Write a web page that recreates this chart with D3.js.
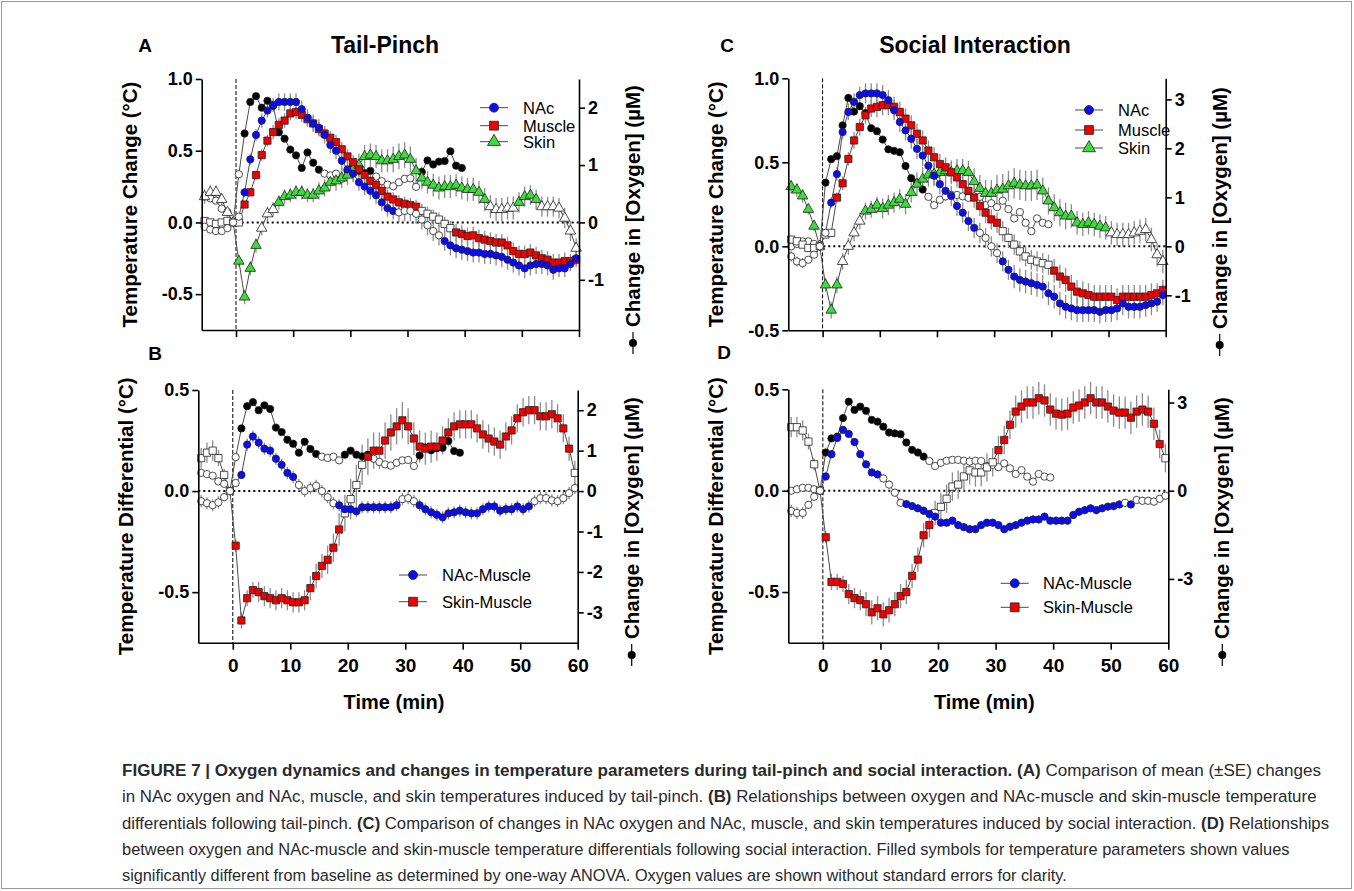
<!DOCTYPE html>
<html><head><meta charset="utf-8">
<script src="https://cdnjs.cloudflare.com/ajax/libs/d3/7.8.5/d3.min.js"></script>
<style>body{margin:0;background:#fff;} svg text{font-family:"Liberation Sans",Arial,Helvetica,sans-serif;}</style>
</head><body><svg id="c" width="1354" height="891"></svg>
<script>
// ---------------- DATA ----------------
const times = [-5.5,-4.5,-3.5,-2.5,-1.5,-0.5,0.5,1.5,2.5,3.5,4.5,5.5,6.5,7.5,8.5,9.5,10.5,11.5,12.5,13.5,14.5,15.5,16.5,17.5,18.5,19.5,20.5,21.5,22.5,23.5,24.5,25.5,26.5,27.5,28.5,29.5,30.5,31.5,32.5,33.5,34.5,35.5,36.5,37.5,38.5,39.5,40.5,41.5,42.5,43.5,44.5,45.5,46.5,47.5,48.5,49.5,50.5,51.5,52.5,53.5,54.5,55.5,56.5,57.5,58.5,59.5];
const xTicks = [0,10,20,30,40,50,60];

// Tail-pinch (A)
const tpNAc = [-0.03,-0.05,-0.06,-0.06,-0.04,0, 0.04,
  0.21,0.44,0.61,0.71,0.78,0.82,0.84,0.84,0.84,0.84,
  0.79,0.73,0.69,0.66,0.61,0.54,0.50,0.43,0.37,0.34,
  0.28,0.25,0.22,0.19,0.14,0.10,0.08,0.07,0.08,0.08,
  0.06,0.02,-0.02,-0.06,-0.09,-0.13,-0.16,-0.18,-0.19,-0.20,
  -0.21,-0.21,-0.22,-0.22,-0.23,-0.24,-0.26,-0.28,-0.30,-0.32,
  -0.30,-0.29,-0.29,-0.30,-0.33,-0.32,-0.32,-0.29,-0.25];
const tpNAcSE = [0.02,0.02,0.02,0.02,0.02,0,
  0.02,0.03,0.04,0.04,0.05,0.05,0.05,0.06,0.06,0.06,
  0.06,0.06,0.06,0.06,0.06,0.06,0.06,0.06,0.06,0.06,
  0.06,0.06,0.06,0.06,0.06,0.06,0.06,0.06,0.07,0.07,
  0.07,0.07,0.07,0.07,0.07,0.07,0.07,0.07,0.07,0.07,
  0.07,0.07,0.07,0.07,0.07,0.07,0.07,0.07,0.07,0.07,
  0.07,0.07,0.07,0.07,0.07,0.07,0.06,0.06,0.05,0.05];
const tpNAcFilled = [[7,33],[42,65]];

const tpMuscle = [0.01,0.0,-0.01,0.0,0.01,0, 0.0,
  0.125,0.21,0.33,0.47,0.57,0.63,0.68,0.71,0.76,0.77,
  0.75,0.72,0.69,0.65,0.62,0.59,0.56,0.51,0.46,0.42,
  0.37,0.33,0.29,0.26,0.22,0.18,0.16,0.14,0.13,0.12,
  0.11,0.08,0.06,0.04,0.02,-0.01,-0.04,-0.07,-0.08,-0.095,
  -0.09,-0.11,-0.12,-0.13,-0.14,-0.14,-0.16,-0.20,-0.22,-0.22,
  -0.21,-0.23,-0.25,-0.26,-0.28,-0.28,-0.27,-0.27,-0.26];
const tpMuscleSE = [0.02,0.02,0.02,0.02,0.02,0,
  0.02,0.02,0.03,0.03,0.04,0.04,0.05,0.05,0.05,0.05,
  0.05,0.05,0.05,0.05,0.05,0.05,0.05,0.05,0.05,0.05,
  0.05,0.05,0.05,0.05,0.05,0.05,0.05,0.05,0.05,0.05,
  0.05,0.05,0.05,0.05,0.05,0.05,0.05,0.05,0.06,0.06,
  0.06,0.06,0.06,0.06,0.06,0.06,0.06,0.06,0.06,0.06,
  0.06,0.06,0.06,0.06,0.06,0.06,0.06,0.06,0.05,0.05];
const tpMuscleFilled = [[7,37],[44,65]];

const tpSkin = [0.18,0.21,0.21,0.16,0.07,0, -0.27,
  -0.52,-0.32,-0.16,-0.04,0.06,0.09,0.14,0.18,0.19,0.21,
  0.21,0.19,0.19,0.22,0.24,0.28,0.29,0.31,0.33,0.37,
  0.40,0.46,0.47,0.46,0.43,0.43,0.44,0.46,0.47,0.44,
  0.36,0.31,0.28,0.26,0.24,0.25,0.25,0.26,0.24,0.23,
  0.23,0.21,0.16,0.11,0.09,0.09,0.10,0.10,0.14,0.18,
  0.19,0.16,0.11,0.11,0.11,0.10,0.03,-0.06,-0.18];
const tpSkinSE = [0.05,0.05,0.05,0.04,0.03,0,
  0.04,0.05,0.05,0.05,0.05,0.05,0.05,0.05,0.05,0.05,
  0.05,0.05,0.05,0.05,0.06,0.06,0.06,0.07,0.07,0.07,
  0.08,0.08,0.08,0.08,0.08,0.08,0.08,0.09,0.09,0.09,
  0.09,0.09,0.08,0.08,0.08,0.08,0.08,0.08,0.08,0.08,
  0.08,0.08,0.08,0.08,0.08,0.08,0.08,0.08,0.08,0.07,
  0.07,0.07,0.07,0.07,0.07,0.07,0.07,0.07,0.07,0.07];
const tpSkinFilled = [[6,9],[13,49],[55,58]];

// Tail-pinch oxygen (µM), shared by A and B
const tpOxygen = [0.45,0.42,0.38,0.24,0.18,0, 0.84,
  1.55,2.10,2.20,2.00,2.12,2.03,1.57,1.46,1.27,1.17,
  0.95,1.22,1.04,0.92,0.85,0.82,0.85,0.76,0.90,1.00,
  0.90,0.86,0.90,0.80,0.72,0.66,0.63,0.70,0.76,0.77,
  0.62,0.88,1.08,1.01,1.06,1.07,1.24,0.99,0.95];
const tpOxygenFilled = [[7,20],[25,29],[38,45]];

// Tail-pinch differentials (B)
const tpNAcMuscle = [-0.05,-0.06,-0.07,-0.056,-0.03,0, 0.04,
  0.08,0.23,0.27,0.24,0.21,0.20,0.16,0.13,0.09,0.07,
  0.03,0.0,0.015,0.026,0.0,-0.03,-0.06,-0.07,-0.09,-0.09,
  -0.10,-0.08,-0.08,-0.08,-0.08,-0.08,-0.08,-0.07,-0.04,-0.035,
  -0.05,-0.07,-0.09,-0.105,-0.117,-0.13,-0.11,-0.105,-0.097,-0.105,
  -0.11,-0.11,-0.09,-0.076,-0.076,-0.097,-0.09,-0.09,-0.076,-0.09,
  -0.076,-0.05,-0.035,-0.035,-0.046,-0.05,-0.035,-0.01,0.015];
const tpNAcMuscleSE = [0.03,0.03,0.03,0.03,0.02,0,
  0.02,0.02,0.03,0.03,0.03,0.03,0.03,0.03,0.03,0.03,
  0.03,0.03,0.03,0.03,0.03,0.03,0.03,0.03,0.03,0.03,
  0.03,0.03,0.03,0.03,0.03,0.03,0.03,0.03,0.03,0.03,
  0.03,0.03,0.03,0.03,0.03,0.03,0.03,0.03,0.03,0.03,
  0.03,0.03,0.03,0.03,0.03,0.03,0.03,0.03,0.03,0.03,
  0.03,0.03,0.03,0.03,0.03,0.03,0.03,0.03,0.03,0.03];
const tpNAcMuscleFilled = [[7,16],[24,34],[38,57]];

const tpSkinMuscle = [0.163,0.19,0.20,0.163,0.08,0, -0.27,
  -0.64,-0.53,-0.49,-0.50,-0.52,-0.53,-0.54,-0.53,-0.54,-0.55,
  -0.55,-0.54,-0.48,-0.42,-0.37,-0.34,-0.28,-0.19,-0.11,-0.04,
  0.03,0.13,0.17,0.20,0.20,0.25,0.29,0.32,0.35,0.32,
  0.26,0.22,0.21,0.22,0.22,0.25,0.29,0.32,0.33,0.33,
  0.33,0.31,0.28,0.26,0.245,0.23,0.27,0.30,0.36,0.39,
  0.40,0.40,0.37,0.37,0.38,0.36,0.31,0.21,0.09];
const tpSkinMuscleSE = [0.05,0.05,0.05,0.04,0.03,0,
  0.03,0.04,0.04,0.04,0.05,0.05,0.05,0.05,0.05,0.05,
  0.05,0.05,0.05,0.06,0.06,0.06,0.07,0.07,0.08,0.09,
  0.10,0.10,0.10,0.09,0.09,0.09,0.09,0.09,0.09,0.09,
  0.09,0.08,0.08,0.08,0.08,0.07,0.07,0.07,0.07,0.07,
  0.07,0.07,0.07,0.07,0.07,0.07,0.07,0.07,0.07,0.07,
  0.07,0.07,0.07,0.07,0.07,0.07,0.07,0.07,0.06,0.06];
const tpSkinMuscleFilled = [[6,24],[29,64]];

// Social interaction (C)
const siNAc = [-0.06,-0.09,-0.10,-0.08,-0.05,0, 0.08,
  0.26,0.43,0.68,0.80,0.86,0.90,0.91,0.91,0.91,0.90,
  0.87,0.81,0.74,0.69,0.64,0.58,0.54,0.48,0.42,0.37,
  0.33,0.30,0.24,0.20,0.15,0.11,0.08,0.05,0.0,-0.04,
  -0.09,-0.14,-0.18,-0.20,-0.21,-0.22,-0.23,-0.24,-0.28,-0.30,
  -0.34,-0.36,-0.37,-0.38,-0.38,-0.38,-0.38,-0.39,-0.38,-0.38,
  -0.37,-0.34,-0.36,-0.36,-0.36,-0.35,-0.34,-0.33,-0.29];
const siNAcSE = [0.03,0.03,0.03,0.02,0.02,0,
  0.02,0.03,0.04,0.04,0.05,0.05,0.05,0.06,0.06,0.06,
  0.06,0.06,0.06,0.06,0.06,0.06,0.06,0.06,0.06,0.06,
  0.06,0.06,0.06,0.06,0.06,0.06,0.06,0.06,0.06,0.06,
  0.06,0.06,0.06,0.07,0.07,0.07,0.07,0.07,0.07,0.07,
  0.07,0.07,0.07,0.07,0.07,0.07,0.07,0.07,0.07,0.07,
  0.07,0.07,0.07,0.07,0.07,0.07,0.07,0.07,0.06,0.06];
const siNAcFilled = [[7,32],[37,65]];

const siMuscle = [0.04,0.03,0.01,-0.01,-0.01,0, 0.07,
  0.08,0.29,0.375,0.52,0.63,0.71,0.78,0.82,0.83,0.84,
  0.84,0.83,0.80,0.76,0.72,0.67,0.63,0.57,0.53,0.49,
  0.47,0.44,0.41,0.37,0.33,0.29,0.24,0.20,0.16,0.14,
  0.09,0.05,0.01,-0.03,-0.06,-0.08,-0.09,-0.10,-0.11,-0.145,
  -0.18,-0.20,-0.24,-0.27,-0.28,-0.29,-0.30,-0.30,-0.30,-0.30,
  -0.32,-0.30,-0.30,-0.30,-0.30,-0.30,-0.29,-0.28,-0.26];
const siMuscleSE = [0.02,0.02,0.02,0.02,0.02,0,
  0.02,0.02,0.03,0.04,0.04,0.05,0.05,0.05,0.05,0.06,
  0.06,0.06,0.06,0.06,0.06,0.06,0.06,0.06,0.06,0.06,
  0.06,0.06,0.06,0.06,0.06,0.06,0.06,0.06,0.06,0.06,
  0.06,0.06,0.06,0.06,0.06,0.06,0.06,0.06,0.06,0.06,
  0.07,0.07,0.07,0.07,0.07,0.07,0.07,0.07,0.07,0.07,
  0.07,0.07,0.07,0.07,0.07,0.07,0.07,0.07,0.06,0.06];
const siMuscleFilled = [[8,36],[46,65]];

const siSkin = [0.355,0.335,0.30,0.22,0.12,0, -0.23,
  -0.38,-0.23,-0.09,0.0,0.08,0.15,0.21,0.22,0.245,0.225,
  0.245,0.26,0.28,0.25,0.32,0.37,0.40,0.425,0.43,0.44,
  0.45,0.44,0.45,0.45,0.44,0.385,0.345,0.315,0.315,0.335,
  0.34,0.36,0.375,0.365,0.36,0.36,0.365,0.33,0.27,0.23,
  0.20,0.18,0.18,0.14,0.13,0.14,0.13,0.12,0.11,0.08,
  0.07,0.07,0.07,0.08,0.09,0.10,0.04,-0.05,-0.09];
const siSkinSE = [0.04,0.04,0.04,0.03,0.03,0,
  0.04,0.05,0.05,0.05,0.05,0.05,0.05,0.05,0.05,0.05,
  0.06,0.06,0.06,0.06,0.06,0.06,0.07,0.07,0.07,0.07,
  0.07,0.07,0.07,0.07,0.07,0.07,0.08,0.08,0.08,0.08,
  0.09,0.09,0.09,0.09,0.09,0.09,0.09,0.09,0.08,0.08,
  0.08,0.08,0.08,0.07,0.07,0.07,0.07,0.07,0.07,0.07,
  0.07,0.07,0.07,0.07,0.07,0.07,0.07,0.07,0.07,0.07];
const siSkinFilled = [[0,4],[6,8],[13,55]];

// Social interaction oxygen (µM), shared by C and D
const siOxygen = [0,0.05,0.1,0.1,0.05,0,
  1.30,1.78,1.84,2.47,3.03,2.75,2.86,2.72,2.41,2.35,2.18,1.98,1.95,1.92,1.64,1.39,1.30,1.16,
  1.01,0.84,0.95,1.02,1.05,1.05,1.02,0.99,1.02,1.01,0.84,0.88,0.80,0.93,0.76,0.57,0.70,0.48,0.31,0.57,0.48,0.45];
const siOxygenFilled = [[6,23]];

// Social interaction differentials (D)
const siNAcMuscle = [-0.10,-0.11,-0.11,-0.07,-0.03,0, 0.07,
  0.18,0.26,0.30,0.28,0.24,0.18,0.13,0.09,0.08,0.06,
  0.03,-0.01,-0.06,-0.066,-0.076,-0.087,-0.099,-0.115,-0.128,-0.158,
  -0.158,-0.148,-0.17,-0.18,-0.19,-0.19,-0.17,-0.158,-0.158,-0.17,
  -0.19,-0.178,-0.17,-0.158,-0.148,-0.142,-0.142,-0.128,-0.148,-0.148,
  -0.148,-0.148,-0.12,-0.104,-0.096,-0.087,-0.096,-0.087,-0.079,-0.076,
  -0.068,-0.06,-0.068,-0.046,-0.05,-0.05,-0.054,-0.04,-0.025];
const siNAcMuscleSE = [0.03,0.03,0.03,0.02,0.02,0,
  0.02,0.02,0.02,0.02,0.02,0.02,0.02,0.02,0.02,0.02,
  0.02,0.02,0.02,0.02,0.02,0.02,0.02,0.02,0.02,0.02,
  0.02,0.02,0.02,0.02,0.02,0.02,0.02,0.02,0.02,0.02,
  0.02,0.02,0.02,0.02,0.02,0.02,0.02,0.02,0.02,0.02,
  0.02,0.02,0.02,0.02,0.02,0.02,0.02,0.02,0.02,0.02,
  0.02,0.02,0.02,0.02,0.02,0.02,0.02,0.02,0.02,0.02];
const siNAcMuscleFilled = [[6,15],[20,57],[59,59]];

const siSkinMuscle = [0.313,0.313,0.297,0.242,0.13,0, -0.23,
  -0.45,-0.45,-0.46,-0.51,-0.53,-0.54,-0.56,-0.60,-0.58,-0.61,
  -0.59,-0.56,-0.52,-0.50,-0.42,-0.34,-0.22,-0.17,-0.11,-0.08,
  -0.04,0.02,0.03,0.07,0.10,0.09,0.09,0.115,0.14,0.20,
  0.25,0.325,0.39,0.415,0.435,0.435,0.456,0.445,0.40,0.38,
  0.375,0.38,0.41,0.42,0.435,0.456,0.435,0.435,0.415,0.395,
  0.385,0.385,0.36,0.39,0.40,0.39,0.33,0.23,0.16];
const siSkinMuscleSE = [0.05,0.05,0.05,0.04,0.03,0,
  0.03,0.04,0.04,0.04,0.05,0.05,0.05,0.06,0.06,0.06,
  0.06,0.06,0.06,0.06,0.06,0.06,0.06,0.06,0.06,0.06,
  0.07,0.07,0.07,0.07,0.07,0.07,0.07,0.07,0.07,0.07,
  0.07,0.07,0.07,0.08,0.08,0.08,0.08,0.08,0.08,0.08,
  0.08,0.08,0.08,0.08,0.08,0.08,0.08,0.08,0.08,0.08,
  0.08,0.08,0.08,0.08,0.08,0.08,0.08,0.08,0.07,0.07];
const siSkinMuscleFilled = [[6,24],[36,64]];

const tempTicksA = [-0.5,0,0.5,1.0];
const tempTicksB = [-0.5,0,0.5];
const oxyTicksA = [-1,0,1,2];
const oxyTicksB = [-3,-2,-1,0,1,2];
const oxyTicksC = [-1,0,1,2,3];
const oxyTicksD = [-3,0,3];

// ---------------- DRAWING ----------------
const svg = d3.select('#c');
svg.append('rect').attr('x',1.5).attr('y',1.5).attr('width',1350).attr('height',887)
  .attr('fill','#fff').attr('stroke','#9a9a9a').attr('stroke-width',1);

const COL = {blue:'#0a0aff', red:'#f20000', green:'#3ddc3d', black:'#000'};
const SHAPE = {circle:[d3.symbolCircle,42], square:[d3.symbolSquare,52], triangle:[d3.symbolTriangle,48]};
const inRanges = (i, r) => r.some(([a,b]) => i>=a && i<=b);

function panel(cfg) {
  const g = svg.append('g');
  const x = d3.scaleLinear().domain([-6,60]).range([cfg.x0,cfg.x1]);
  const yL = d3.scaleLinear().domain(cfg.left).range([cfg.yBot,cfg.yTop]);
  const yR = d3.scaleLinear().domain(cfg.right).range([cfg.yBot,cfg.yTop]);

  g.append('line').attr('x1',cfg.x0).attr('x2',cfg.x1).attr('y1',yL(0)).attr('y2',yL(0))
    .attr('stroke','#000').attr('stroke-width',2).attr('stroke-dasharray','2,3');
  g.append('line').attr('x1',x(0)).attr('x2',x(0)).attr('y1',cfg.yTop).attr('y2',cfg.yBot)
    .attr('stroke','#000').attr('stroke-width',1).attr('stroke-dasharray','4,2');

  const pts = cfg.series.map(s => s.values.map((v,i) => ({
    t: times[i], v, se: s.se ? s.se[i] : 0, f: inRanges(i, s.filled), y: s.axis==='right'? yR : yL
  })));
  cfg.series.forEach((s,k) => {
    if (!s.se) return;
    g.append('g').selectAll('line').data(pts[k].filter(p=>p.se>0)).join('line')
      .attr('x1',p=>x(p.t)).attr('x2',p=>x(p.t))
      .attr('y1',p=>p.y(p.v-p.se)).attr('y2',p=>p.y(p.v+p.se))
      .attr('stroke','#8c8c8c').attr('stroke-width',1.3);
  });
  cfg.series.forEach((s,k) => {
    g.append('path').datum(pts[k])
      .attr('d', d3.line().x(p=>x(p.t)).y(p=>p.y(p.v)))
      .attr('fill','none').attr('stroke','#4a4a4a').attr('stroke-width',1);
  });
  cfg.series.forEach((s,k) => {
    const [type,size] = SHAPE[s.shape];
    g.append('g').selectAll('path').data(pts[k]).join('path')
      .attr('transform',p=>`translate(${x(p.t)},${p.y(p.v)})`)
      .attr('d', d3.symbol(type,size))
      .attr('fill', p => p.f ? s.color : '#fff')
      .attr('stroke', '#222').attr('stroke-width', 0.8);
  });

  const styleAxis = (a) => {
    a.select('.domain').attr('stroke','#000').attr('stroke-width',1.6);
    a.selectAll('.tick line').attr('stroke','#000').attr('stroke-width',1.6);
    a.selectAll('.tick text').attr('fill','#000').style('font-weight','bold').style('font-size','18px')
      .style('font-family','"Liberation Sans",Arial,sans-serif');
  };
  const ax = g.append('g').attr('transform',`translate(0,${cfg.yBot})`)
    .call(d3.axisBottom(x).tickValues(xTicks).tickSize(7).tickSizeOuter(0).tickPadding(6)
      .tickFormat(cfg.xLabels ? d=>String(d) : ()=>''));
  styleAxis(ax);
  ax.selectAll('.tick text').style('font-size','19px').attr('dy','0.85em');
  const al = g.append('g').attr('transform',`translate(${cfg.x0},0)`)
    .call(d3.axisLeft(yL).tickValues(cfg.leftTicks).tickSize(6).tickSizeOuter(0).tickPadding(3)
      .tickFormat(d=>d.toFixed(1)));
  styleAxis(al);
  const ar = g.append('g').attr('transform',`translate(${cfg.x1},0)`)
    .call(d3.axisRight(yR).tickValues(cfg.rightTicks).tickSize(6).tickSizeOuter(0).tickPadding(3)
      .tickFormat(d=>String(d)));
  styleAxis(ar);

  const cy = (cfg.yTop+cfg.yBot)/2;
  g.append('text').attr('transform',`translate(${cfg.x0-65},${cy}) rotate(-90)`)
    .attr('text-anchor','middle').style('font-weight','bold').style('font-size','20.5px')
    .text(cfg.leftTitle);
  const rx = cfg.x1 + 61;
  g.append('line').attr('x1',rx-7).attr('x2',rx-7).attr('y1',cfg.symY-11).attr('y2',cfg.symY+11)
    .attr('stroke','#000').attr('stroke-width',1.2);
  g.append('circle').attr('cx',rx-7).attr('cy',cfg.symY).attr('r',4).attr('fill','#000');
  g.append('text').attr('transform',`translate(${rx},${cfg.symY-16}) rotate(-90)`)
    .attr('text-anchor','start').style('font-weight','bold').style('font-size','20.5px')
    .text('Change in [Oxygen] (µM)');

  cfg.legend.items.forEach((s,k) => {
    const ly = cfg.legend.y[k];
    g.append('line').attr('x1',cfg.legend.x).attr('x2',cfg.legend.x+28).attr('y1',ly).attr('y2',ly)
      .attr('stroke','#4a4a4a').attr('stroke-width',1);
    const [type,size] = SHAPE[s.shape];
    g.append('path').attr('transform',`translate(${cfg.legend.x+14},${ly})`)
      .attr('d', d3.symbol(type,size*1.5)).attr('fill',s.color).attr('stroke','#222').attr('stroke-width',0.8);
    g.append('text').attr('x',cfg.legend.tx).attr('y',ly+6).style('font-size','16.5px').text(s.name);
  });

  if (cfg.xLabels) {
    g.append('text').attr('x',(cfg.x0+cfg.x1)/2+6).attr('y',709).attr('text-anchor','middle')
      .style('font-weight','bold').style('font-size','20px').text('Time (min)');
  }
}

const sO2tp = {values:tpOxygen, filled:tpOxygenFilled, color:COL.black, shape:'circle', axis:'right'};
const sO2si = {values:siOxygen, filled:siOxygenFilled, color:COL.black, shape:'circle', axis:'right'};
const sA = [
  sO2tp,
  {name:'Skin', values:tpSkin, se:tpSkinSE, filled:tpSkinFilled, color:COL.green, shape:'triangle'},
  {name:'Muscle', values:tpMuscle, se:tpMuscleSE, filled:tpMuscleFilled, color:COL.red, shape:'square'},
  {name:'NAc', values:tpNAc, se:tpNAcSE, filled:tpNAcFilled, color:COL.blue, shape:'circle'}
];
const sB = [
  sO2tp,
  {name:'Skin-Muscle', values:tpSkinMuscle, se:tpSkinMuscleSE, filled:tpSkinMuscleFilled, color:COL.red, shape:'square'},
  {name:'NAc-Muscle', values:tpNAcMuscle, se:tpNAcMuscleSE, filled:tpNAcMuscleFilled, color:COL.blue, shape:'circle'}
];
const sC = [
  sO2si,
  {name:'Skin', values:siSkin, se:siSkinSE, filled:siSkinFilled, color:COL.green, shape:'triangle'},
  {name:'Muscle', values:siMuscle, se:siMuscleSE, filled:siMuscleFilled, color:COL.red, shape:'square'},
  {name:'NAc', values:siNAc, se:siNAcSE, filled:siNAcFilled, color:COL.blue, shape:'circle'}
];
const sD = [
  sO2si,
  {name:'Skin-Muscle', values:siSkinMuscle, se:siSkinMuscleSE, filled:siSkinMuscleFilled, color:COL.red, shape:'square'},
  {name:'NAc-Muscle', values:siNAcMuscle, se:siNAcMuscleSE, filled:siNAcMuscleFilled, color:COL.blue, shape:'circle'}
];

panel({x0:201.7,x1:579,yTop:79,yBot:330,left:[-0.75,1.0],right:[-1.875,2.5],
  leftTicks:tempTicksA,rightTicks:oxyTicksA,series:sA,xLabels:false,symY:343,
  leftTitle:'Temperature Change (°C)',
  legend:{x:480,tx:523,y:[107.7,125.7,141.7],items:[sA[3],sA[2],sA[1]]}});
panel({x0:198.3,x1:577.7,yTop:390,yBot:642.7,left:[-0.75,0.5],right:[-3.75,2.5],
  leftTicks:tempTicksB,rightTicks:oxyTicksB,series:sB,xLabels:true,symY:655,
  leftTitle:'Temperature Differential (°C)',
  legend:{x:399,tx:442,y:[575,601.7],items:[sB[2],sB[1]]}});
panel({x0:788.3,x1:1165.7,yTop:78.3,yBot:330.3,left:[-0.5,1.0],right:[-1.714,3.43],
  leftTicks:tempTicksA,rightTicks:oxyTicksC,series:sC,xLabels:false,symY:345,
  leftTitle:'Temperature Change (°C)',
  legend:{x:1075,tx:1118,y:[110,130,148],items:[sC[3],sC[2],sC[1]]}});
panel({x0:788.3,x1:1168.3,yTop:389.3,yBot:642.7,left:[-0.75,0.5],right:[-5.17,3.45],
  leftTicks:tempTicksB,rightTicks:oxyTicksD,series:sD,xLabels:true,symY:655,
  leftTitle:'Temperature Differential (°C)',
  legend:{x:1000.7,tx:1043,y:[583.3,607.3],items:[sD[2],sD[1]]}});

const T = (x,y,s,txt,anchor='middle') => svg.append('text').attr('x',x).attr('y',y).attr('text-anchor',anchor)
  .style('font-weight','bold').style('font-size',s+'px').text(txt);
T(385,53,23,'Tail-Pinch');
T(975,53,23,'Social Interaction');
T(145,52,19,'A'); T(727,52,19,'C'); T(155,360,19,'B'); T(724,359,19,'D');

// caption: each line is one text element, horizontally scaled as a whole to the reference width
const captionLines = [
  {y:776, len:1200, parts:[['FIGURE 7 | Oxygen dynamics and changes in temperature parameters during tail-pinch and social interaction. (A)',1],[' Comparison of mean (±SE) changes',0]]},
  {y:802, len:1196, parts:[['in NAc oxygen and NAc, muscle, and skin temperatures induced by tail-pinch. ',0],['(B)',1],[' Relationships between oxygen and NAc-muscle and skin-muscle temperature',0]]},
  {y:829, len:1208, parts:[['differentials following tail-pinch. ',0],['(C)',1],[' Comparison of changes in NAc oxygen and NAc, muscle, and skin temperatures induced by social interaction. ',0],['(D)',1],[' Relationships',0]]},
  {y:855, len:1168, parts:[['between oxygen and NAc-muscle and skin-muscle temperature differentials following social interaction. Filled symbols for temperature parameters shown values',0]]},
  {y:881, len:946, parts:[['significantly different from baseline as determined by one-way ANOVA. Oxygen values are shown without standard errors for clarity.',0]]}
];
captionLines.forEach(l => {
  const lg = svg.append('g');
  const t = lg.append('text').attr('x',0).attr('y',0)
    .style('font-family','"Liberation Sans",Arial,sans-serif').style('font-size','17px').attr('fill','#2a2a2a')
    .attr('xml:space','preserve');
  l.parts.forEach(([s,b]) => t.append('tspan').style('font-weight', b?'bold':'normal').text(s));
  const w = t.node().getComputedTextLength();
  lg.attr('transform',`translate(122,${l.y}) scale(${l.len/w},1)`);
});
</script>
</body></html>
